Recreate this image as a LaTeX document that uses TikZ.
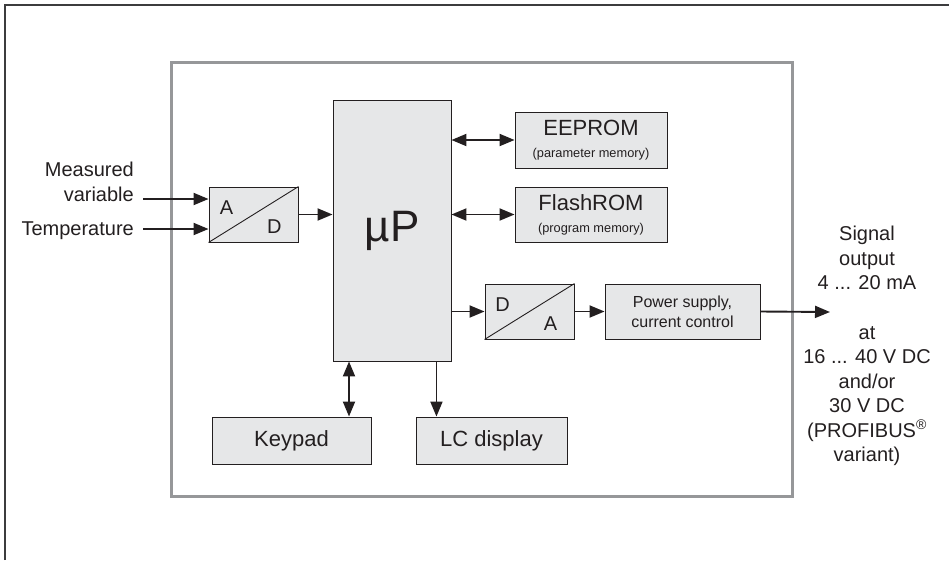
\documentclass[tikz,border=0pt]{standalone}
\usepackage{fontspec}
\setmainfont{Liberation Sans}
\usetikzlibrary{arrows.meta,positioning,calc}
\definecolor{boxgray}{RGB}{230,231,232}
\definecolor{framegray}{RGB}{150,151,153}
\definecolor{inkdark}{RGB}{35,31,32}
\definecolor{edgedark}{RGB}{60,60,62}

\begin{document}
\begin{tikzpicture}[x=1pt,y=-1pt,
  blk/.style={draw=inkdark, fill=boxgray, line width=0.9pt, inner sep=0pt, align=center, text=inkdark},
  sig/.style={draw=inkdark, line width=1.9pt, -{Triangle[length=15pt,width=12pt]}},
  bisig/.style={sig, {Triangle[length=15pt,width=12pt]}-{Triangle[length=15pt,width=12pt]}},
  lbl/.style={font=\fontsize{20}{24.5}\selectfont, text=inkdark, inner sep=0pt}]
  \useasboundingbox (0,0) rectangle (949,560);
  % outer sheet edge and housing
  \draw[edgedark, line width=2pt] (5,560) -- (5,5) -- (949,5);
  \draw[framegray, line width=3pt] (171,62) rectangle (792,496);
  % converter A/D
  \node[blk, minimum width=89, minimum height=55] (ad) at (253.5,214.5) {};
  \draw[inkdark, line width=0.9pt] (ad.south west) -- (ad.north east);
  \node[lbl] (adA) at ([xshift=18pt,yshift=-21pt]ad.north west) {A};
  \node[lbl] (adD) at ([xshift=-24pt,yshift=16pt]ad.south east) {D};
  % processor
  \node[blk, minimum width=118, minimum height=261, font=\fontsize{44}{44}\selectfont] (up) at (392,230.5) {µP};
  % memories
  \node[blk, minimum width=152, minimum height=56, font=\fontsize{22}{20}\selectfont] (ee) at (591,140)
    {EEPROM\\[2pt]{\fontsize{12.8}{14}\selectfont(parameter memory)}};
  \node[blk, minimum width=152, minimum height=55, font=\fontsize{22}{20}\selectfont] (fr) at (591,214.5)
    {FlashROM\\[2pt]{\fontsize{12.8}{14}\selectfont(program memory)}};
  % converter D/A
  \node[blk, minimum width=89, minimum height=55] (da) at (529.5,311.5) {};
  \draw[inkdark, line width=0.9pt] (da.south west) -- (da.north east);
  \node[lbl] (daD) at ([xshift=18pt,yshift=-21pt]da.north west) {D};
  \node[lbl] (daA) at ([xshift=-24pt,yshift=16pt]da.south east) {A};
  % output stage
  \node[blk, minimum width=155, minimum height=55, font=\fontsize{16}{20}\selectfont] (psu) at (682.5,311.5)
    {Power supply,\\current control};
  % operating elements
  \node[blk, minimum width=159, minimum height=47, font=\fontsize{22}{24}\selectfont] (kp) at (291.5,440.5) {Keypad};
  \node[blk, minimum width=151, minimum height=47, font=\fontsize{22}{24}\selectfont] (lcd) at (491.5,440.5) {LC display};
  % inputs
  \node[lbl, align=right, anchor=east] (mv) at (134,182) {Measured\\variable};
  \node[lbl, anchor=east] (temp) at (134,231) {Temperature};
  \coordinate (mvin) at (143,199);
  \coordinate (tempin) at (143,229);
  % output text
  \node[lbl, align=center] (sigout) at (867,258) {Signal\\output\\4 ... 20 mA};
  \node[lbl, align=center] (supply) at (867,396)
    {at\\16 ... 40 V DC\\and/or\\30 V DC\\(PROFIBUS\textsuperscript{®}\\variant)};
  \coordinate (outend) at (830,312);
  % connectors
  \draw[sig] (mvin) -- (mvin -| ad.west);
  \draw[sig] (tempin) -- (tempin -| ad.west);
  \draw[sig] (ad.east) -- (ad.east -| up.west);
  \draw[bisig] (ee.west -| up.east) -- (ee.west);
  \draw[bisig] (fr.west -| up.east) -- (fr.west);
  \draw[sig] (da.west -| up.east) -- (da.west);
  \draw[sig] (da.east) -- (psu.west);
  \draw[sig] (psu.east) -- (outend);
  \draw[bisig] ([xshift=-43pt]up.south) -- ([xshift=-43pt]up.south |- kp.north);
  \draw[sig] ([xshift=-15pt]up.south east) -- ([xshift=-15pt]up.south east |- lcd.north);
\end{tikzpicture}
\end{document}
